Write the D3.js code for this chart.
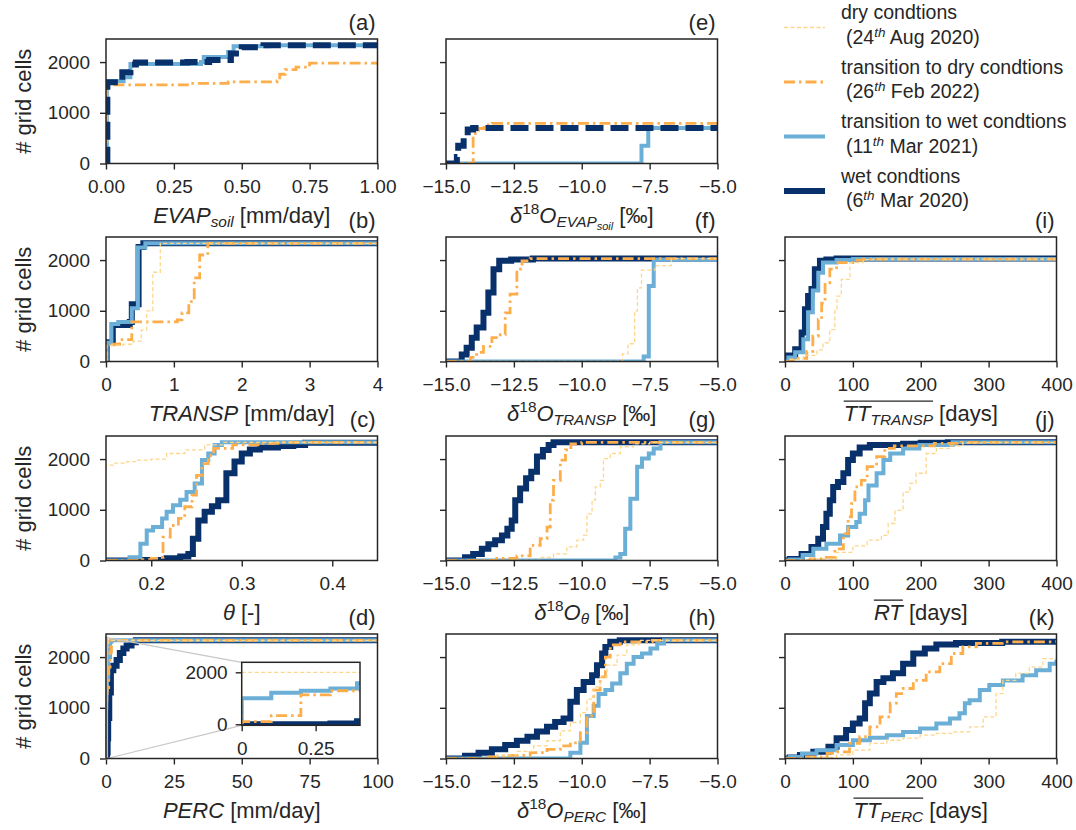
<!DOCTYPE html>
<html>
<head>
<meta charset="utf-8">
<script src="https://cdn.jsdelivr.net/npm/d3@7"></script>
<style>
body { margin: 0; background: #fff; }
text { font-family: "Liberation Sans", Arial, sans-serif; fill: #262626; }
</style>
</head>
<body>
<svg id="chart" width="1076" height="830"></svg>
<script>
// ---- data: cumulative number of grid cells, [value, count] pairs per condition ----
const conditions = ["wet", "toWet", "toDry", "dry"];
const legendNames = ["dry condtions", "transition to dry condtions", "transition to wet condtions", "wet condtions"];
const legendDays = ["24", "26", "11", "6"];
const legendDates = [" Aug 2020)", " Feb 2022)", " Mar 2021)", " Mar 2020)"];

const evapSoil = {
  wet: [[0,0],[0.005,1600],[0.06,1800],[0.09,1950],[0.11,1990],[0.3,2000],[0.38,2040],[0.46,2170],[0.5,2290],[0.58,2330]],
  toWet: [[0,0],[0.003,1620],[0.065,1700],[0.09,1960],[0.35,2000],[0.36,2100],[0.45,2200],[0.47,2310],[0.6,2330]],
  toDry: [[0,0],[0.003,1550],[0.27,1550],[0.3,1580],[0.45,1610],[0.63,1630],[0.64,1760],[0.66,1850],[0.7,1900],[0.75,1980]],
  dry: []
};
const d18oEvap = {
  wet: [[-15,0],[-14.6,130],[-14.55,350],[-14.35,500],[-14.2,670],[-14.0,700]],
  toWet: [[-15,0],[-7.8,350],[-7.55,700]],
  toDry: [[-15,0],[-14.0,590],[-13.8,690],[-13.6,760],[-13.3,790]],
  dry: []
};
const transp = {
  wet: [[0,0],[0.01,380],[0.1,720],[0.35,780],[0.38,1130],[0.48,2260],[0.55,2330]],
  toWet: [[0,0],[0.01,370],[0.08,740],[0.18,780],[0.38,1050],[0.47,2250],[0.58,2330]],
  toDry: [[0,0],[0.01,330],[0.12,340],[0.2,430],[0.38,780],[1.05,820],[1.12,960],[1.22,1180],[1.3,1650],[1.38,2100],[1.5,2330]],
  dry: [[0,0],[0.01,320],[0.25,340],[0.4,400],[0.52,620],[0.6,1000],[0.69,1760],[0.8,2330]]
};
const d18oTransp = {
  wet: [[-15,0],[-14.42,140],[-14.24,270],[-14.05,470],[-13.87,670],[-13.62,960],[-13.44,1360],[-13.25,1820],[-13.04,1985],[-12.6,2010],[-11.8,2030]],
  toWet: [[-15,0],[-7.72,100],[-7.53,1490],[-7.35,2010]],
  toDry: [[-15,0],[-14.1,80],[-13.87,180],[-13.62,300],[-13.31,470],[-13.0,530],[-12.82,960],[-12.64,1330],[-12.39,1820],[-12.2,1985],[-11.9,2030]],
  dry: [[-15,0],[-8.5,150],[-8.3,350],[-8.05,1000],[-7.95,1450],[-7.8,1800],[-7.3,1890],[-6.7,2030]]
};
const ttTransp = {
  wet: [[0,0],[2,120],[15,240],[24.5,570],[29.4,1030],[34,1290],[39,1430],[44,1820],[51.5,1985],[61,2010],[76,2030]],
  toWet: [[0,0],[5,80],[15,180],[27,440],[34,970],[41,1400],[49,1750],[56,1950],[76,2000],[100,2020]],
  toDry: [[0,0],[8,30],[15,60],[32,200],[41,500],[49,830],[54,1150],[59,1550],[66,1820],[76,1950],[100,2000],[115,2020]],
  dry: [[0,0],[5,40],[27,120],[47,230],[56,370],[66,630],[73.5,1030],[76.5,1290],[83,1620],[95.6,1950],[115,2010],[130,2020]]
};
const theta = {
  wet: [[0.15,0],[0.19,10],[0.217,45],[0.232,80],[0.241,130],[0.246,430],[0.252,790],[0.259,960],[0.267,1070],[0.274,1190],[0.283,1720],[0.292,1950],[0.3,2110],[0.309,2190],[0.32,2230],[0.34,2260],[0.357,2280],[0.37,2320]],
  toWet: [[0.15,0],[0.176,65],[0.188,330],[0.195,590],[0.202,660],[0.212,830],[0.217,960],[0.224,1090],[0.232,1200],[0.239,1350],[0.248,1520],[0.256,1980],[0.263,2110],[0.27,2280],[0.278,2330]],
  toDry: [[0.15,0],[0.19,15],[0.2,40],[0.21,60],[0.213,460],[0.221,690],[0.23,830],[0.237,1060],[0.245,1290],[0.25,1680],[0.256,1910],[0.263,2070],[0.269,2210],[0.29,2280],[0.32,2310],[0.34,2330]],
  dry: [[0.1,1820],[0.15,1880],[0.158,1920],[0.173,1950],[0.185,1980],[0.2,2000],[0.217,2110],[0.237,2180],[0.259,2280],[0.28,2330]]
};
const d18oTheta = {
  wet: [[-15,0],[-14.3,65],[-14.0,130],[-13.68,230],[-13.44,320],[-13.19,400],[-12.94,495],[-12.74,625],[-12.58,790],[-12.45,1190],[-12.27,1420],[-12.05,1620],[-11.86,1750],[-11.65,2050],[-11.43,2180],[-11.22,2280],[-11.04,2330]],
  toWet: [[-15,0],[-8.76,60],[-8.58,130],[-8.4,625],[-8.21,1220],[-7.96,1850],[-7.78,2010],[-7.53,2110],[-7.35,2210],[-7.1,2330]],
  toDry: [[-15,0],[-13.13,40],[-12.39,90],[-11.9,300],[-11.53,430],[-11.28,660],[-11.16,1190],[-11.04,1580],[-10.79,1980],[-10.6,2180],[-10.4,2300],[-10.0,2330]],
  dry: [[-15,0],[-11.53,60],[-11.04,130],[-10.55,270],[-10.18,400],[-9.93,500],[-9.81,920],[-9.62,1190],[-9.5,1450],[-9.32,1580],[-9.2,2010],[-8.95,2110],[-8.58,2240],[-8.1,2300],[-7.5,2330]]
};
const rt = {
  wet: [[0,0],[7,30],[24.5,130],[39,265],[49,430],[56,660],[61,920],[66,1190],[71,1450],[78,1550],[86,1720],[93,1980],[100,2110],[110,2230],[125,2280],[174,2300],[200,2320],[240,2330]],
  toWet: [[0,0],[7,20],[26,110],[41.7,230],[61,330],[81,495],[93,660],[105,760],[110,920],[118,1190],[123,1480],[135,1720],[145,1980],[155,2110],[174,2210],[198,2280],[247,2330]],
  toDry: [[0,0],[37,30],[56,60],[73.5,230],[86,530],[93,860],[98,1120],[103,1450],[112.5,1580],[121,1850],[135,2050],[147,2210],[161,2260],[220,2310],[260,2330]],
  dry: [[0,0],[39,30],[76,160],[100,290],[121,400],[142,495],[152,730],[162,990],[174,1350],[184,1520],[193,1720],[208,2110],[223,2210],[243,2260],[262,2320],[290,2330]]
};
const perc = {
  wet: [[0,0],[0.3,30],[0.39,120],[0.6,400],[0.8,800],[1.2,1300],[1.8,1740],[2.7,1830],[3.9,1940],[5.1,2080],[6.4,2170],[7.6,2230],[9.4,2290],[11,2330]],
  toWet: [[0,0],[0,1000],[0.1,1210],[0.2,1290],[0.3,1380],[0.39,1580],[0.8,2000],[1.5,2300],[2,2330]],
  toDry: [[0,0],[0,100],[0.1,330],[0.2,1130],[0.3,1290],[0.42,1400],[1,1800],[1.5,2100],[2,2330]],
  dry: [[0,0],[0,2000],[0.5,2200],[1,2330]]
};
const d18oPerc = {
  wet: [[-15,0],[-14.3,55],[-13.8,115],[-13.31,180],[-12.82,265],[-12.39,350],[-12.0,430],[-11.65,530],[-11.28,625],[-10.98,720],[-10.67,790],[-10.42,1120],[-10.18,1350],[-9.93,1510],[-9.62,1640],[-9.44,1840],[-9.25,2070],[-9.13,2200],[-8.95,2300],[-8.6,2330]],
  toWet: [[-15,0],[-10.42,115],[-10.05,310],[-9.81,840],[-9.56,1040],[-9.38,1270],[-9.13,1350],[-8.88,1480],[-8.58,1680],[-8.34,1870],[-8.09,2000],[-7.78,2070],[-7.47,2170],[-7.22,2270],[-6.97,2330]],
  toDry: [[-15,0],[-13.5,30],[-12.74,60],[-11.9,115],[-11.28,180],[-10.79,250],[-10.42,310],[-10.05,510],[-9.81,840],[-9.56,1350],[-9.32,1610],[-9.13,2000],[-8.95,2240],[-8.58,2300],[-7.4,2330]],
  dry: [[-15,0],[-13.13,70],[-12.39,140],[-11.77,250],[-11.28,350],[-10.79,545],[-10.42,710],[-10.05,905],[-9.81,1170],[-9.56,1410],[-9.32,1610],[-9.07,1840],[-8.7,2040],[-8.34,2240],[-7.9,2330]]
};
const ttPerc = {
  wet: [[0,0],[7,20],[22,70],[41.7,135],[64,230],[76,400],[90,560],[100,690],[110,790],[118,1090],[125,1280],[135,1510],[145,1580],[159,1680],[174,1870],[189,2070],[206,2170],[223,2250],[252,2280],[320,2300],[400,2330]],
  toWet: [[0,0],[7,30],[25,100],[46.5,165],[76,265],[100,360],[125,410],[150,460],[174,525],[199,590],[223,690],[243,790],[257,890],[265,1090],[272,1150],[287,1350],[301,1450],[321,1540],[350,1640],[370,1740],[390,1870],[400,1950]],
  toDry: [[0,0],[25,30],[62,100],[76,130],[95,300],[110,430],[125,625],[140,820],[155,1090],[164,1280],[174,1380],[189,1540],[208,1710],[228,1870],[245,2070],[262,2200],[282,2270],[320,2300],[400,2330]],
  dry: [[0,0],[37,20],[76,70],[100,165],[125,300],[150,360],[174,400],[199,460],[223,495],[247,525],[272,625],[292,820],[311,1280],[321,1540],[340,1680],[360,1800],[380,1970],[400,2140]]
};

const yTicks = [0, 1000, 2000];
const deltaTicks = [-15, -12.5, -10, -7.5, -5];
const dayTicks = [0, 100, 200, 300, 400];

// ---- layout & styles ----
const colX = [106, 446, 785], rowY = [39, 237, 436, 634];
const pw = 271.5, ph = 124.5, yMax = 2455;
const ink = "#262626";
const styles = {
  wet:   {color: "#08306b", width: 6,   dash: null},
  toWet: {color: "#6baed6", width: 4,   dash: null},
  toDry: {color: "#fdae4b", width: 2.8, dash: "11,4,2.5,4"},
  dry:   {color: "#fed68a", width: 1.3, dash: "4,2.5"}
};

const deltaLabel = sub => [{t:"δ",i:1},{t:"18",s:"sup"},{t:"O",i:1}].concat(sub);
const panels = [
  {id:"a", col:0, row:0, data:evapSoil, dom:[0,1], ticks:[0,0.25,0.5,0.75,1], fmt:".2f", dashedWet:true,
   label:[{t:"EVAP",i:1},{t:"soil",i:1,s:"sub"},{t:" [mm/day]"}]},
  {id:"e", col:1, row:0, data:d18oEvap, dom:[-15,-5], ticks:deltaTicks, fmt:".1f", dashedWet:true,
   label:deltaLabel([{t:"EVAP",i:1,s:"sub"},{t:"soil",i:1,s:"sub2"},{t:" [‰]"}])},
  {id:"b", col:0, row:1, data:transp, dom:[0,4], ticks:[0,1,2,3,4], fmt:"d",
   label:[{t:"TRANSP",i:1},{t:" [mm/day]"}]},
  {id:"f", col:1, row:1, data:d18oTransp, dom:[-15,-5], ticks:deltaTicks, fmt:".1f",
   label:deltaLabel([{t:"TRANSP",i:1,s:"sub"},{t:" [‰]"}])},
  {id:"i", col:2, row:1, data:ttTransp, dom:[0,400], ticks:dayTicks, fmt:"d",
   label:[{t:"TT",i:1,o:1},{t:"TRANSP",i:1,s:"sub",o:1},{t:" [days]"}]},
  {id:"c", col:0, row:2, data:theta, dom:[0.15,0.45], ticks:[0.2,0.3,0.4], fmt:".1f",
   label:[{t:"θ",i:1},{t:" [-]"}]},
  {id:"g", col:1, row:2, data:d18oTheta, dom:[-15,-5], ticks:deltaTicks, fmt:".1f",
   label:deltaLabel([{t:"θ",i:1,s:"sub"},{t:" [‰]"}])},
  {id:"j", col:2, row:2, data:rt, dom:[0,400], ticks:dayTicks, fmt:"d",
   label:[{t:"RT",i:1,o:1},{t:" [days]"}]},
  {id:"d", col:0, row:3, data:perc, dom:[0,100], ticks:[0,25,50,75,100], fmt:"d", inset:true,
   label:[{t:"PERC",i:1},{t:" [mm/day]"}]},
  {id:"h", col:1, row:3, data:d18oPerc, dom:[-15,-5], ticks:deltaTicks, fmt:".1f",
   label:deltaLabel([{t:"PERC",i:1,s:"sub"},{t:" [‰]"}])},
  {id:"k", col:2, row:3, data:ttPerc, dom:[0,400], ticks:dayTicks, fmt:"d",
   label:[{t:"TT",i:1,o:1},{t:"PERC",i:1,s:"sub",o:1},{t:" [days]"}]}
];

const svg = d3.select("#chart");

function richText(sel, x, y, segs, size, anchor) {
  const t = sel.append("text").attr("x", x).attr("y", y)
               .attr("text-anchor", anchor).style("font-size", size + "px");
  let cur = 0, idx = 0;
  const marks = [];
  segs.forEach(s => {
    let fs = size, off = 0;
    if (s.s === "sub") { fs = size * 0.7; off = size * 0.22; }
    if (s.s === "sub2") { fs = size * 0.5; off = size * 0.36; }
    if (s.s === "sup") { fs = size * 0.7; off = -size * 0.4; }
    t.append("tspan").attr("dy", off - cur)
     .style("font-size", fs + "px")
     .style("font-style", s.i ? "italic" : "normal")
     .text(s.t);
    cur = off;
    if (s.o) marks.push([idx, idx + s.t.length - 1]);
    idx += s.t.length;
  });
  if (marks.length) {
    const node = t.node();
    const a = node.getExtentOfChar(marks[0][0]);
    const b = node.getExtentOfChar(marks[marks.length - 1][1]);
    sel.append("line")
       .attr("x1", a.x).attr("x2", b.x + b.width)
       .attr("y1", y - size * 0.88).attr("y2", y - size * 0.88)
       .attr("stroke", ink).attr("stroke-width", 1.3);
  }
  return t;
}

function drawSeries(g, data, x, y, xmax, dashedWet) {
  const line = d3.line().x(d => x(d[0])).y(d => y(d[1])).curve(d3.curveStepAfter);
  let order = ["wet", "toWet", "toDry", "dry"];
  if (dashedWet) order = ["toWet", "toDry", "dry", "wet"];
  order.forEach(k => {
    const pts = data[k];
    if (!pts || !pts.length) return;
    const last = pts[pts.length - 1];
    const full = last[0] < xmax ? pts.concat([[xmax, last[1]]]) : pts;
    const st = styles[k];
    g.append("path")
     .attr("d", line(full))
     .attr("fill", "none")
     .attr("stroke", st.color)
     .attr("stroke-width", st.width)
     .attr("stroke-dasharray", (k === "wet" && dashedWet) ? "18,7" : st.dash)
     .attr("stroke-linejoin", "miter");
  });
}

function styleAxis(ax) {
  ax.select(".domain").remove();
  ax.selectAll(".tick line").attr("stroke", ink).attr("stroke-width", 1.4);
  ax.selectAll(".tick text").style("font-size", "19px").attr("fill", ink);
}

panels.forEach(p => {
  const g = svg.append("g").attr("transform", `translate(${colX[p.col]},${rowY[p.row]})`);
  const x = d3.scaleLinear().domain(p.dom).range([0, pw]);
  const y = d3.scaleLinear().domain([0, yMax]).range([ph, 0]);

  g.append("clipPath").attr("id", "clip-" + p.id)
   .append("rect").attr("width", pw).attr("height", ph);
  const plot = g.append("g").attr("clip-path", `url(#clip-${p.id})`);
  drawSeries(plot, p.data, x, y, p.dom[1], p.dashedWet);

  const xAx = g.append("g").attr("transform", `translate(0,${ph})`)
    .call(d3.axisBottom(x).tickValues(p.ticks).tickFormat(d3.format(p.fmt)).tickSize(6).tickPadding(10));
  styleAxis(xAx);
  const yAx = g.append("g")
    .call(d3.axisLeft(y).tickValues(yTicks).tickFormat(p.col === 0 ? d3.format("d") : "").tickSize(6).tickPadding(10));
  styleAxis(yAx);

  if (p.inset) {
    // zoom indicator + inset for small percolation values
    const ix0 = 135.7, iy0 = 28.3, iw = 118.3, ih = 63;
    const xi = d3.scaleLinear().domain([0, 0.4]).range([0, iw]);
    const yi = d3.scaleLinear().domain([-40, 2385]).range([ih, 0]);
    const rTop = y(2385), rBot = Math.min(y(-40), ph);
    g.append("rect").attr("x", x(0)).attr("y", rTop).attr("width", x(0.4) - x(0)).attr("height", rBot - rTop)
     .attr("fill", "none").attr("stroke", "#bdbdbd").attr("stroke-width", 2);
    g.append("line").attr("x1", x(0.4)).attr("y1", rTop).attr("x2", ix0).attr("y2", iy0)
     .attr("stroke", "#c8c8c8").attr("stroke-width", 1.2);
    g.append("line").attr("x1", x(0.4)).attr("y1", rBot).attr("x2", ix0).attr("y2", iy0 + ih)
     .attr("stroke", "#c8c8c8").attr("stroke-width", 1.2);

    const ig = g.append("g").attr("transform", `translate(${ix0},${iy0})`);
    ig.append("rect").attr("width", iw).attr("height", ih).attr("fill", "#fff");
    ig.append("clipPath").attr("id", "clip-inset").append("rect").attr("width", iw).attr("height", ih);
    const iplot = ig.append("g").attr("clip-path", "url(#clip-inset)");
    drawSeries(iplot, p.data, xi, yi, 0.4, false);
    const ixAx = ig.append("g").attr("transform", `translate(0,${ih})`)
      .call(d3.axisBottom(xi).tickValues([0, 0.25]).tickFormat(d => d === 0 ? "0" : "0.25").tickSize(6).tickPadding(10));
    styleAxis(ixAx);
    const iyAx = ig.append("g")
      .call(d3.axisLeft(yi).tickValues([0, 2000]).tickFormat(d3.format("d")).tickSize(6).tickPadding(8));
    styleAxis(iyAx);
    ig.append("rect").attr("width", iw).attr("height", ih)
      .attr("fill", "none").attr("stroke", ink).attr("stroke-width", 1.5);
  }

  g.append("rect").attr("width", pw).attr("height", ph)
   .attr("fill", "none").attr("stroke", ink).attr("stroke-width", 1.5);

  richText(g, pw / 2, ph + 59, p.label, 22, "middle");
  g.append("text").attr("x", pw - 2).attr("y", -9).attr("text-anchor", "end")
   .style("font-size", "22px").text("(" + p.id + ")");

  if (p.col === 0) {
    g.append("text").attr("transform", `translate(${31 - colX[0]},${ph / 2}) rotate(-90)`)
     .attr("text-anchor", "middle").style("font-size", "22px").text("# grid cells");
  }
});

// ---- legend ----
const legendKeys = ["dry", "toDry", "toWet", "wet"];
const lg = svg.append("g");
legendKeys.forEach((k, i) => {
  const top = i * 54.5;
  const st = styles[k];
  lg.append("line").attr("x1", 784).attr("x2", 825).attr("y1", top + 27.5).attr("y2", top + 27.5)
    .attr("stroke", st.color).attr("stroke-width", st.width).attr("stroke-dasharray", st.dash);
  lg.append("text").attr("x", 841).attr("y", top + 19).style("font-size", "19.5px").text(legendNames[i]);
  const t2 = lg.append("text").attr("x", 846).attr("y", top + 43.5).style("font-size", "19.5px");
  t2.append("tspan").text("(" + legendDays[i]);
  t2.append("tspan").attr("dy", -7).style("font-size", "13.5px").style("font-style", "italic").text("th");
  t2.append("tspan").attr("dy", 7).text(legendDates[i]);
});
</script>
</body>
</html>
